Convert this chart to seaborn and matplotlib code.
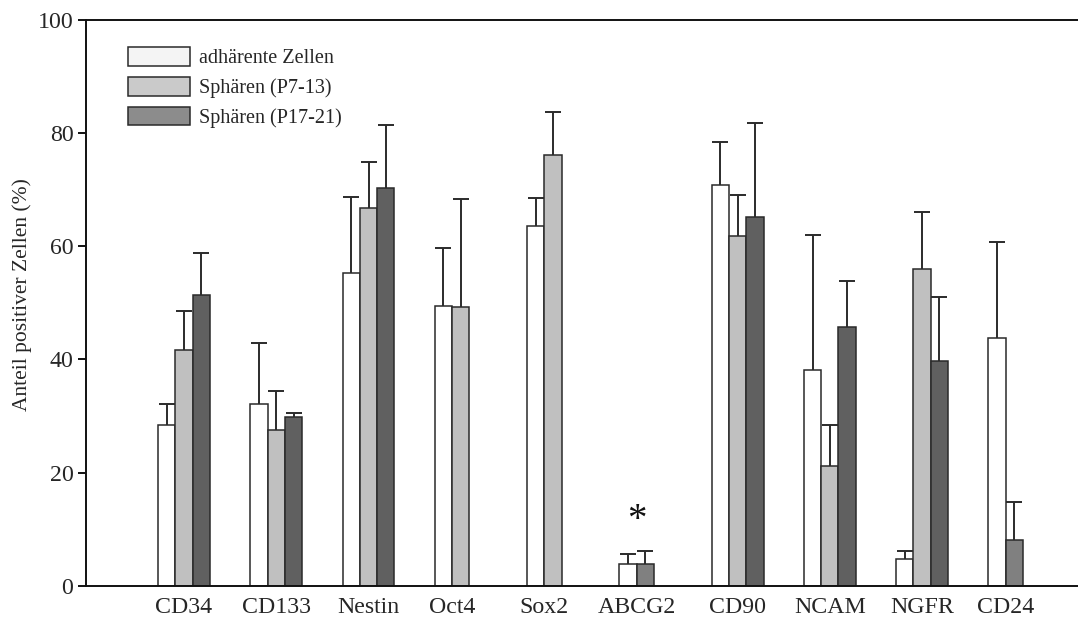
import numpy as np
import pandas as pd
import matplotlib
matplotlib.use("Agg")
import matplotlib.pyplot as plt
from matplotlib.patches import Patch
import seaborn as sns

nan = np.nan
markers = ["CD34", "CD133", "Nestin", "Oct4", "Sox2", "ABCG2", "CD90", "NCAM", "NGFR", "CD24"]
series = ["adhärente Zellen", "Sphären (P7-13)", "Sphären (P17-21)"]

adh_mean = [28.5, 32.2, 55.3, 49.4, 63.6, 3.8, 70.7, 38.2, 4.7, 43.7]
adh_sd = [3.6, 10.7, 13.3, 10.3, 4.9, 1.8, 7.7, 23.7, 1.4, 17.1]
p7_mean = [41.7, 27.5, 66.8, 49.2, 76.0, 3.8, 61.8, 21.2, 56.0, 8.2]
p7_sd = [6.8, 6.9, 8.0, 19.1, 7.7, 2.4, 7.2, 7.2, 10.0, 6.6]
p17_mean = [51.4, 29.9, 70.3, nan, nan, nan, 65.1, 45.7, 39.8, nan]
p17_sd = [7.4, 0.7, 11.1, nan, nan, nan, 16.7, 8.1, 11.2, nan]

special_markers = ["ABCG2", "CD24"]   # middle bar drawn in medium grey
star_marker = "ABCG2"
star_y = 11.6

bar_colors = ["#ffffff", "#c0c0c0", "#606060"]
special_color = "#808080"
legend_colors = ["#f4f4f4", "#cacaca", "#8c8c8c"]
edge = "#2a2a2a"

rows = []
for s, means, sds in zip(series, [adh_mean, p7_mean, p17_mean], [adh_sd, p7_sd, p17_sd]):
    for m, v, e in zip(markers, means, sds):
        rows.append({"marker": m, "series": s, "value": v, "sd": e})
df = pd.DataFrame(rows)

sns.set_style("ticks")
plt.rcParams["font.family"] = ["Liberation Serif", "DejaVu Serif"]

W, H = 1078, 622
fig = plt.figure(figsize=(W / 100, H / 100), dpi=100)
ax = fig.add_axes([86 / W, 1 - 586 / H, (W - 86) / W, (586 - 19.5) / H])

sns.barplot(data=df.dropna(subset=["value"]), x="marker", y="value", hue="series",
            order=markers, hue_order=series, palette=bar_colors, width=0.563,
            errorbar=None, edgecolor=edge, linewidth=1.1, legend=False, ax=ax, zorder=2)

# identify each bar and add upper error bars
centers = {m: [] for m in markers}
for cont, s in zip(ax.containers, series):
    sub = df[df["series"] == s].set_index("marker")
    for p in cont.patches:
        h = p.get_height()
        if not np.isfinite(h):
            continue
        xc = p.get_x() + p.get_width() / 2
        m = markers[int(round(xc))]
        centers[m].append(xc)
        if s == series[1] and m in special_markers:
            p.set_facecolor(special_color)
        sd = sub.loc[m, "sd"]
        eb = ax.errorbar([xc], [h], yerr=[[0], [sd]], fmt="none", ecolor="#2b2b2b",
                         elinewidth=1.4, capsize=5.8, capthick=1.4, zorder=3)
        for cl in eb[1]:
            if np.allclose(cl.get_ydata(), h):
                cl.set_visible(False)

tick_pos = [np.mean(centers[m]) for m in markers]
ax.set_xticks(tick_pos)
ax.set_xticklabels(markers, fontsize=17.2)
ax.tick_params(axis="x", length=0, pad=8)
ax.tick_params(axis="y", length=6, width=1.4, labelsize=17.2, pad=3, direction="out",
               color="#111111")

ax.text(tick_pos[markers.index(star_marker)], star_y, "*", ha="center", va="center",
        fontsize=28, color="#111111")

ax.set_xlim(-1.062, 9.69)
ax.set_ylim(0, 100)
ax.set_yticks([0, 20, 40, 60, 80, 100])
ax.set_xlabel("")
ax.set_ylabel("Anteil positiver Zellen (%)", fontsize=15.5)
ax.yaxis.set_label_coords(-0.0544, 0.514)

for sp in ["left", "bottom", "top"]:
    ax.spines[sp].set_linewidth(1.4)
    ax.spines[sp].set_color("#111111")
ax.spines["right"].set_visible(False)

handles = [Patch(facecolor=c, edgecolor=edge, linewidth=1.1) for c in legend_colors]
ax.legend(handles, series, loc="upper left", bbox_to_anchor=(0.0423, 0.951),
          frameon=False, fontsize=14.5, handlelength=3.1, handleheight=1.05,
          labelspacing=0.42, handletextpad=0.45, borderpad=0, borderaxespad=0)

fig.savefig("out.png", dpi=100)
